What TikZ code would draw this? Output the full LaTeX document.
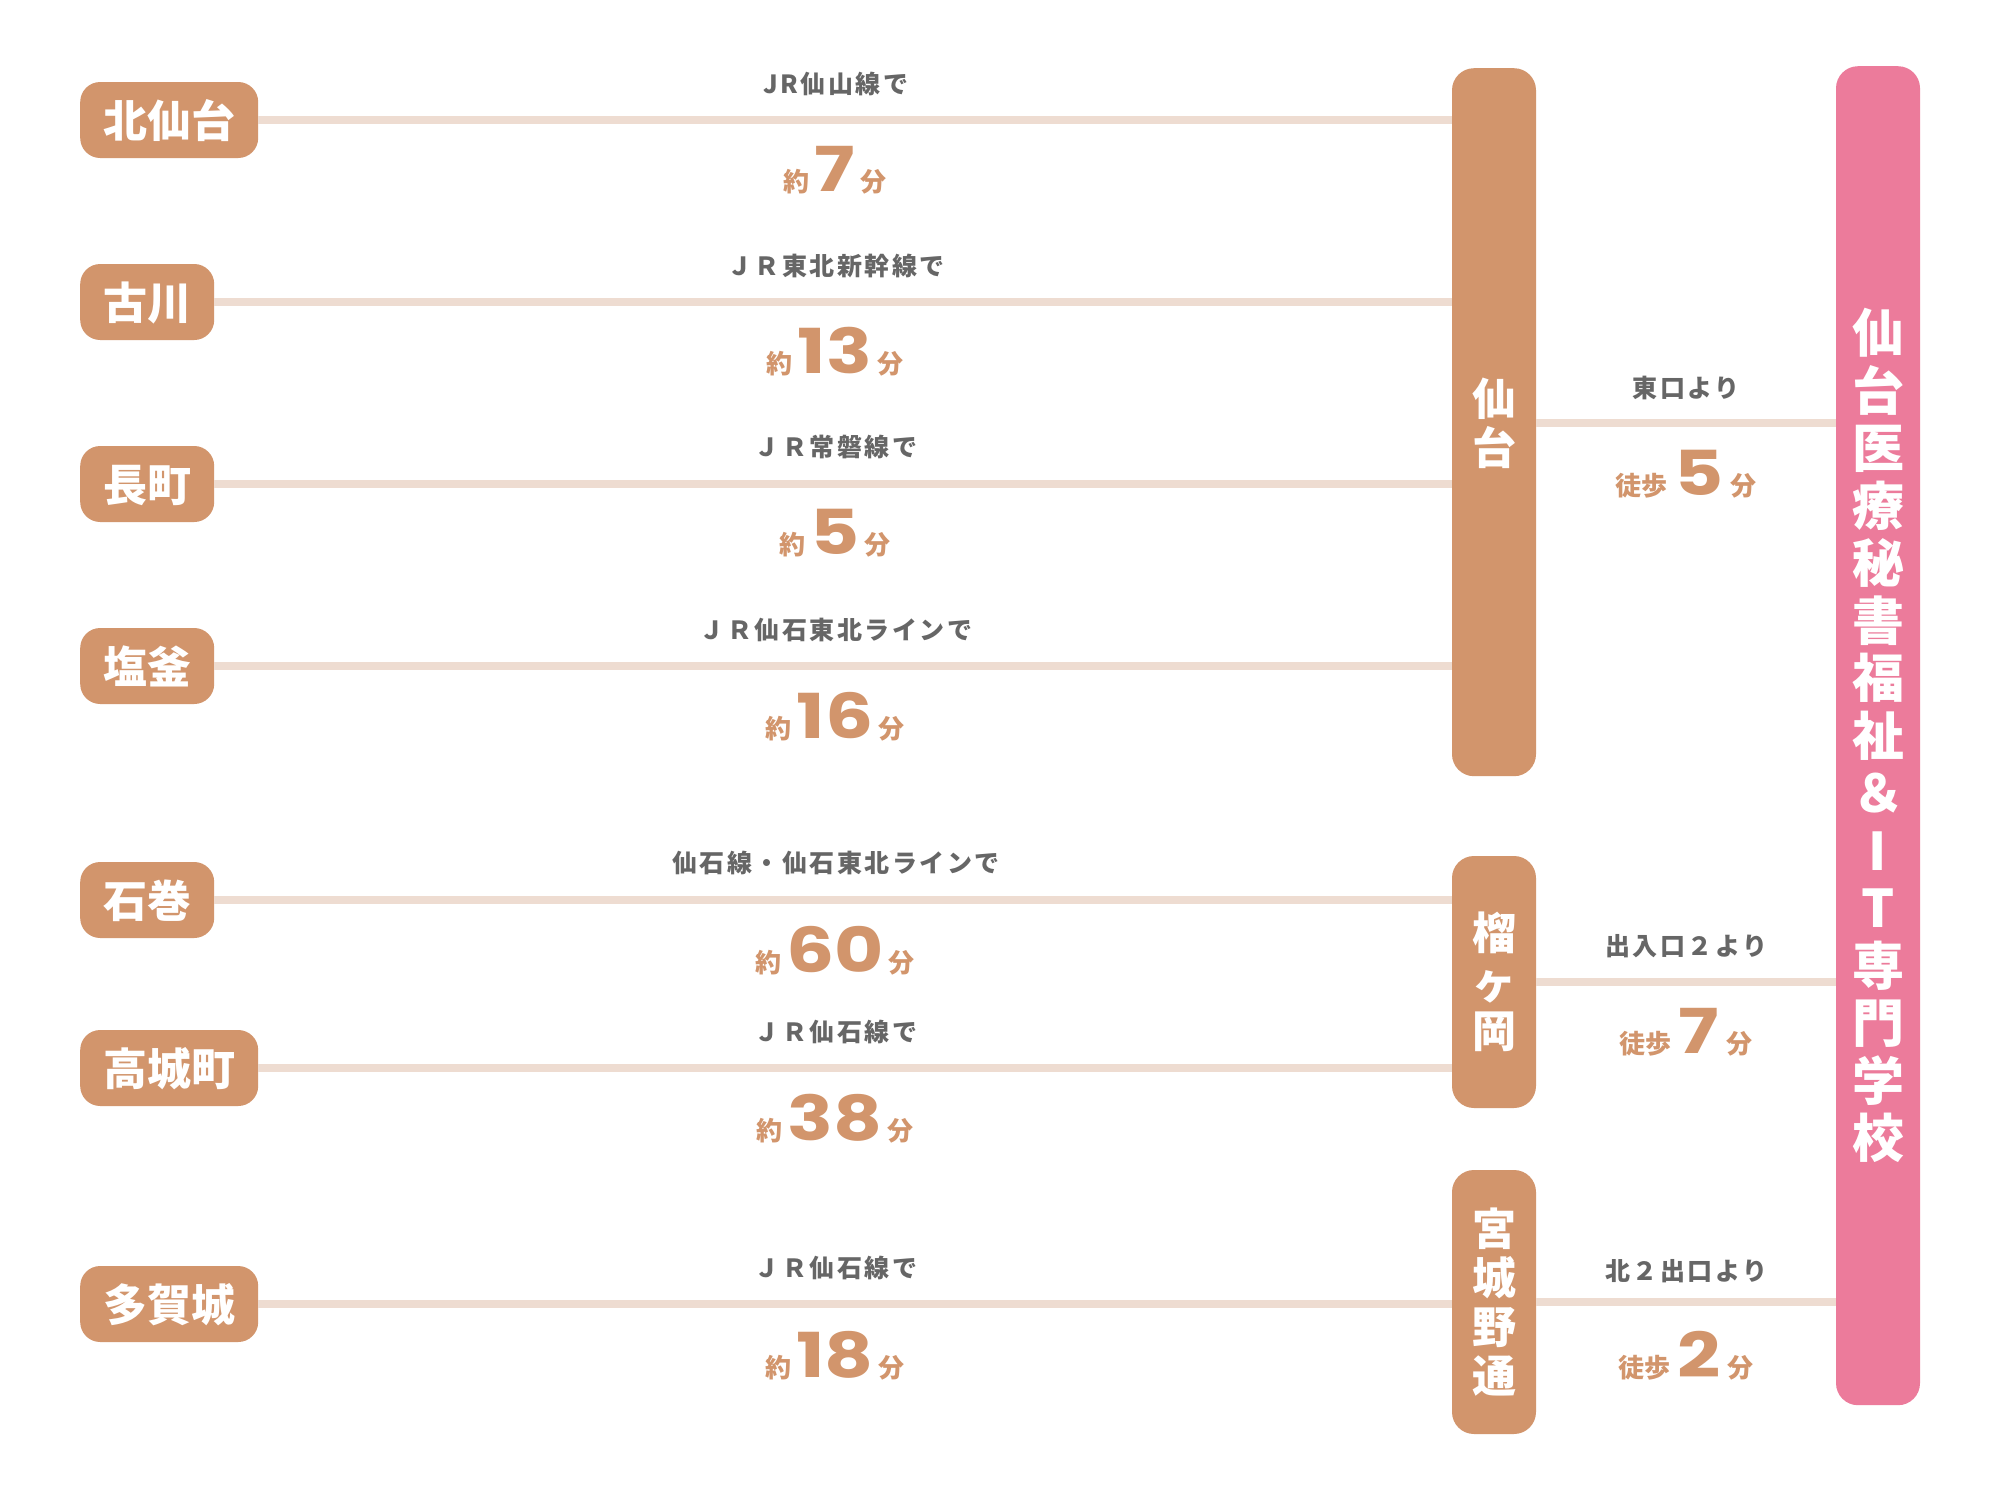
\documentclass[tikz,border=0pt]{standalone}
\usepackage{fontspec}
\newfontfamily\jp{Noto Sans CJK JP}
\newfontfamily\jpsp{Noto Sans CJK JP}[LetterSpace=10]
\newfontfamily\numf{Poppins}[FakeStretch=1.22]
\definecolor{tanc}{HTML}{D2956C}
\definecolor{pinkc}{HTML}{EC7B9B}
\definecolor{railc}{HTML}{EEDCD1}
\definecolor{grayc}{HTML}{666666}
\newcommand\mytime[1]{{\fontsize{26}{26}\selectfont 約}\hspace{5pt}{\numf\bfseries\fontsize{62}{62}\selectfont #1}\hspace{5pt}{\fontsize{26}{26}\selectfont 分}}
\newcommand\mywalk[1]{{\fontsize{26}{26}\selectfont 徒歩}\hspace{7pt}{\numf\bfseries\fontsize{62}{62}\selectfont #1}\hspace{7pt}{\fontsize{26}{26}\selectfont 分}}
\begin{document}
\begin{tikzpicture}[x=1pt,y=-1pt,
  station/.style={fill=tanc, rounded corners=20pt, text=white, font=\jp\bfseries\fontsize{44}{44}\selectfont, minimum height=76pt, inner xsep=23pt, inner ysep=0pt, text height=36pt, text depth=2pt, anchor=west},
  vbar/.style={fill=tanc, rounded corners=22pt, minimum width=84pt, inner sep=0pt, text=white, align=center, font=\jp\bfseries\fontsize{44}{49}\selectfont},
  pinkbar/.style={fill=pinkc, rounded corners=22pt, minimum width=84pt, inner sep=0pt, text=white, align=center, font=\jp\bfseries\fontsize{52}{57.5}\selectfont},
  vtext/.style={inner sep=0pt, text=white, align=center, font=\jp\bfseries\fontsize{44}{49}\selectfont},
  rail/.style={draw=railc, line width=8pt},
  lbl/.style={anchor=base, inner sep=0pt, text=grayc, font=\jpsp\bfseries\fontsize{25}{25}\selectfont},
  tm/.style={anchor=base, inner sep=0pt, text=tanc, font=\jp\bfseries}
]
\fill[white] (0,0) rectangle (2000,1500);
\useasboundingbox (0,0) rectangle (2000,1500);

% vertical bars
\node[vbar, minimum height=708pt, anchor=north] (sendai) at (1494,68) {};
\node[vtext] (sendaitxt) at (1494,423) {仙\\台};
\node[vbar, minimum height=252pt] (tsutsuji) at (1494,982) {榴\\ヶ\\岡};
\node[vbar, minimum height=264pt] (miyagino) at (1494,1302) {宮\\城\\野\\通};
\node[pinkbar, minimum height=1339pt, anchor=north] (school) at (1878,66) {仙\\台\\医\\療\\秘\\書\\福\\祉\\＆\\I\\T\\専\\門\\学\\校};

% origin stations
\node[station] (kitasendai) at (80,120) {北仙台};
\node[station] (furukawa) at (80,302) {古川};
\node[station] (nagamachi) at (80,484) {長町};
\node[station] (shiogama) at (80,666) {塩釜};
\node[station] (ishinomaki) at (80,900) {石巻};
\node[station] (takagi) at (80,1068) {高城町};
\node[station] (tagajo) at (80,1304) {多賀城};

% rails
\draw[rail] (kitasendai.east) -- (kitasendai.east -| sendai.west);
\draw[rail] (furukawa.east) -- (furukawa.east -| sendai.west);
\draw[rail] (nagamachi.east) -- (nagamachi.east -| sendai.west);
\draw[rail] (shiogama.east) -- (shiogama.east -| sendai.west);
\draw[rail] (ishinomaki.east) -- (ishinomaki.east -| tsutsuji.west);
\draw[rail] (takagi.east) -- (takagi.east -| tsutsuji.west);
\draw[rail] (tagajo.east) -- (tagajo.east -| miyagino.west);
\draw[rail] (sendai.east |- sendaitxt) -- (school.west |- sendaitxt);
\draw[rail] (tsutsuji.east) -- (tsutsuji.east -| school.west);
\draw[rail] (miyagino.east) -- (miyagino.east -| school.west);

% line labels
\node[lbl] (l1) at (836,93) {JR仙山線で};
\node[lbl] (l2) at (836,275) {ＪＲ東北新幹線で};
\node[lbl] (l3) at (836,456) {ＪＲ常磐線で};
\node[lbl] (l4) at (836,639) {ＪＲ仙石東北ラインで};
\node[lbl] (l5) at (836,872) {仙石線・仙石東北ラインで};
\node[lbl] (l6) at (836,1041) {ＪＲ仙石線で};
\node[lbl] (l7) at (836,1277) {ＪＲ仙石線で};

% times
\node[tm] (t1) at (835,191) {\mytime{7}};
\node[tm] (t2) at (835,373) {\mytime{13}};
\node[tm] (t3) at (835,554) {\mytime{5}};
\node[tm] (t4) at (835,738) {\mytime{16}};
\node[tm] (t5) at (835,972) {\mytime{60}};
\node[tm] (t6) at (835,1140) {\mytime{38}};
\node[tm] (t7) at (835,1377) {\mytime{18}};

% walking
\node[lbl] (w1l) at (1686,397) {東口より};
\node[lbl] (w2l) at (1686,955) {出入口２より};
\node[lbl] (w3l) at (1686,1280) {北２出口より};
\node[tm] (w1) at (1686,495) {\mywalk{5}};
\node[tm] (w2) at (1686,1053) {\mywalk{7}};
\node[tm] (w3) at (1686,1377) {\mywalk{2}};
\end{tikzpicture}
\end{document}
